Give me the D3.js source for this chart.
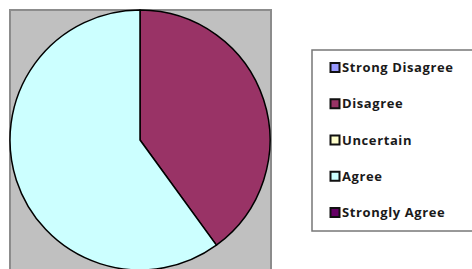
<!DOCTYPE html>
<html>
<head>
<meta charset="utf-8">
<script src="https://cdn.jsdelivr.net/npm/d3@7"></script>
<style>
  body { margin: 0; background: #fff; }
  svg { display: block; }
</style>
</head>
<body>
<svg id="chart"></svg>
<script>
// Survey responses (percent)
var categories = ["Strong Disagree", "Disagree", "Uncertain", "Agree", "Strongly Agree"];
var values = [0, 40, 0, 60, 0];
var colors = ["#9999ff", "#993366", "#ffffcc", "#ccffff", "#660066"];

var width = 472, height = 269;

const svg = d3.select("#chart")
    .attr("width", width)
    .attr("height", height);

// Gray plot area
svg.append("rect")
    .attr("x", 10)
    .attr("y", 10)
    .attr("width", 261)
    .attr("height", 270)
    .attr("fill", "#c0c0c0")
    .attr("stroke", "#8c8c8c")
    .attr("stroke-width", 2);

var data = categories.map((c, i) => ({ name: c, value: values[i], color: colors[i] }));

const pie = d3.pie()
    .sort(null)
    .value(d => d.value);

const radius = 130;
const arc = d3.arc()
    .innerRadius(0)
    .outerRadius(radius);

const pieG = svg.append("g")
    .attr("transform", "translate(140,140)");

pieG.selectAll("path")
    .data(pie(data).filter(d => d.data.value > 0))
    .enter()
    .append("path")
    .attr("d", arc)
    .attr("fill", d => d.data.color)
    .attr("stroke", "#000")
    .attr("stroke-width", 1.5)
    .attr("stroke-linejoin", "round");

// Legend box
svg.append("rect")
    .attr("x", 312)
    .attr("y", 50)
    .attr("width", 170)
    .attr("height", 181)
    .attr("fill", "#fff")
    .attr("stroke", "#777")
    .attr("stroke-width", 1.5);

const yLegend = d3.scalePoint()
    .domain(categories)
    .range([67.5, 212.5]);

const items = svg.selectAll(".legend-item")
    .data(data)
    .enter()
    .append("g")
    .attr("class", "legend-item")
    .attr("transform", d => `translate(330,${yLegend(d.name)})`);

items.append("rect")
    .attr("x", 0.5)
    .attr("y", -4.5)
    .attr("width", 9)
    .attr("height", 9)
    .attr("fill", d => d.color)
    .attr("stroke", "#111")
    .attr("stroke-width", 2);

items.append("text")
    .attr("x", 12)
    .attr("dy", "0.36em")
    .style("font-family", "'Open Sans', sans-serif")
    .style("font-weight", "bold")
    .style("font-size", "13px")
    .style("letter-spacing", "0.6px")
    .style("fill", "#1a1a1a")
    .text(d => d.name);
</script>
</body>
</html>
